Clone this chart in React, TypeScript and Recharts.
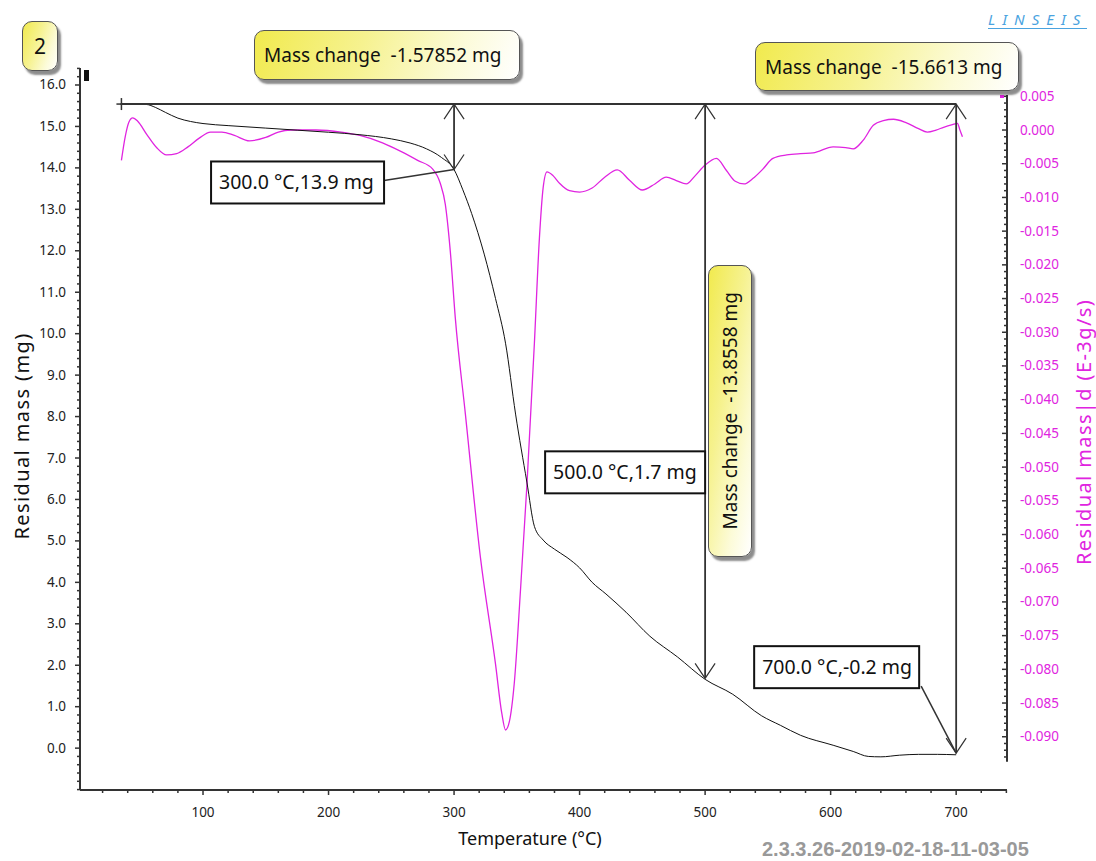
import React from "react";
import { LineChart, Line, XAxis, YAxis, ReferenceLine, ReferenceDot } from "recharts";

const FONT = '"Noto Sans", sans-serif';
const PINK = "#e024e0";
const INK = "#333";

// TG: residual mass (mg) against temperature (°C)
const tgTemp = [34, 45, 55, 62, 70, 80, 90, 100, 120, 150, 175, 200, 225, 250, 265, 278, 290, 300, 307, 314, 324, 333, 341, 349, 358, 364, 371, 380, 390, 400, 410, 421, 437, 456, 478, 500, 522, 545, 560, 576, 602, 618, 630, 640, 655, 670, 685, 700];
const tgMass = [15.54, 15.54, 15.53, 15.46, 15.34, 15.2, 15.12, 15.07, 15.02, 14.96, 14.91, 14.86, 14.8, 14.7, 14.6, 14.46, 14.25, 13.96, 13.47, 12.9, 11.92, 10.85, 9.77, 8.06, 6.42, 5.35, 5.02, 4.8, 4.6, 4.35, 4.0, 3.72, 3.28, 2.7, 2.2, 1.66, 1.3, 0.78, 0.55, 0.31, 0.07, -0.08, -0.2, -0.21, -0.17, -0.15, -0.15, -0.16];

// DTG: residual mass|d (E-3g/s)
const dtgTemp = [35, 38, 41, 44, 48, 55, 63, 71, 79, 88, 97, 106, 115, 125, 137, 150, 160, 170, 190, 210, 225, 243, 258, 271, 283, 289, 293, 297, 301, 309, 321, 333, 338, 341, 344, 348, 353, 358, 364, 368, 371, 374, 379, 384, 392, 400, 410, 420, 430, 440, 450, 460, 469, 477, 485, 492, 500, 509, 517, 524, 531, 538, 546, 554, 565, 576, 586, 602, 612, 618, 626, 634, 642, 650, 660, 670, 677, 684, 690, 697, 701, 703, 705];
const dtgRate = [-0.0045, -0.001, 0.0012, 0.0018, 0.0013, -0.0006, -0.0026, -0.0037, -0.0035, -0.0025, -0.0012, -0.0003, -0.0003, -0.0008, -0.0016, -0.0011, -0.0003, 0, 0, -0.0003, -0.0008, -0.0019, -0.0032, -0.0045, -0.0058, -0.0079, -0.011, -0.018, -0.0279, -0.0421, -0.0634, -0.0792, -0.0865, -0.089, -0.0878, -0.082, -0.068, -0.0528, -0.0316, -0.016, -0.0085, -0.0062, -0.0068, -0.0079, -0.009, -0.0092, -0.0086, -0.007, -0.0059, -0.0075, -0.0089, -0.008, -0.007, -0.0075, -0.008, -0.0068, -0.0052, -0.0042, -0.006, -0.0076, -0.008, -0.0072, -0.0058, -0.0042, -0.0037, -0.0035, -0.0034, -0.0025, -0.0026, -0.0028, -0.0015, 0.0007, 0.0014, 0.0016, 0.0011, 0.0002, -0.0003, 0, 0.0004, 0.0008, 0.001, 0, -0.001];

// tick labels
const tempLabels = [100, 200, 300, 400, 500, 600, 700];
const massLabels = [0, 1, 2, 3, 4, 5, 6, 7, 8, 9, 10, 11, 12, 13, 14, 15, 16];
const rateLabels = [0.005, 0, -0.005, -0.01, -0.015, -0.02, -0.025, -0.03, -0.035, -0.04, -0.045, -0.05, -0.055, -0.06, -0.065, -0.07, -0.075, -0.08, -0.085, -0.09];

// minor tick positions
const tempTicks = Array.from({ length: 37 }, (_, i) => 20 + i * 20);
const massTicks = Array.from({ length: 88 }, (_, i) => Math.round((-1 + i * 0.2) * 10) / 10);
const rateTicks = Array.from({ length: 99 }, (_, i) => Math.round((0.005 - i * 0.001) * 1000) / 1000);

// mass change evaluation
const startTemp = 35;
const startMass = 15.54;
const markTemps = [300, 500, 700];
const massChanges = [-1.57852, -13.8558, -15.6613];
const pointLabels = ["300.0 °C,13.9 mg", "500.0 °C,1.7 mg", "700.0 °C,-0.2 mg"];

const tgData = tgTemp.map((t, i) => ({ t, mass: tgMass[i] }));
const dtgData = dtgTemp.map((t, i) => ({ t, rate: dtgRate[i] }));

const TempTick = ({ x, y, payload }: any) => {
  const v = payload.value;
  const major = tempLabels.includes(v);
  return (
    <g>
      <line x1={x} x2={x} y1={y} y2={y + (major ? 5 : 3)} stroke={INK} strokeWidth={1.5} />
      {major && (
        <text x={x} y={y + 27} textAnchor="middle" fontSize={13.5} fill="#222" fontFamily={FONT}>
          {v}
        </text>
      )}
    </g>
  );
};

const MassTick = ({ x, y, payload }: any) => {
  const v = payload.value;
  const major = massLabels.includes(v);
  return (
    <g>
      <line x1={x} x2={x - (major ? 5 : 3)} y1={y} y2={y} stroke={INK} strokeWidth={1.5} />
      {major && (
        <text x={x - 14} y={y + 4.5} textAnchor="end" fontSize={13.5} fill="#222" fontFamily={FONT}>
          {v.toFixed(1)}
        </text>
      )}
    </g>
  );
};

const RateTick = ({ x, y, payload }: any) => {
  const v = payload.value;
  const major = rateLabels.some((r) => Math.abs(r - v) < 1e-9);
  return (
    <g>
      <line x1={x} x2={x - (major ? 5 : 3)} y1={y} y2={y} stroke={INK} strokeWidth={1.5} />
      {major && (
        <text x={x + 13} y={y + 4.5} textAnchor="start" fontSize={13.5} fill={PINK} fontFamily={FONT}>
          {v.toFixed(3)}
        </text>
      )}
    </g>
  );
};

const ArrowShape = (p: any) => {
  const top = Math.min(p.y1, p.y2);
  const bottom = Math.max(p.y1, p.y2);
  const x = p.x1;
  return (
    <g stroke={INK} fill="none">
      <line x1={x} x2={x} y1={top} y2={bottom} strokeWidth={1.8} />
      <polyline points={`${x - 10},${top + 15} ${x},${top} ${x + 10},${top + 15}`} strokeWidth={1.2} />
      <polyline points={`${x - 10},${bottom - 15} ${x},${bottom} ${x + 10},${bottom - 15}`} strokeWidth={1.2} />
    </g>
  );
};

const Cross = (p: any) => (
  <g stroke={INK} strokeWidth={1.5}>
    <line x1={p.cx - 5} x2={p.cx + 5} y1={p.cy} y2={p.cy} />
    <line x1={p.cx} x2={p.cx} y1={p.cy - 6} y2={p.cy + 6} />
  </g>
);

const boxPlace = [
  { dx: -243, dy: -8, w: 173, lead: [-70, 11] },
  { dx: -160, dy: -227, w: 160, lead: null },
  { dx: -202, dy: -107, w: 165, lead: [-35, -67] },
];

const makeBox = (i: number) => (p: any) => {
  const b = boxPlace[i];
  const bx = p.cx + b.dx;
  const by = p.cy + b.dy;
  return (
    <g>
      {b.lead && (
        <line x1={p.cx + b.lead[0]} y1={p.cy + b.lead[1]} x2={p.cx} y2={p.cy} stroke={INK} strokeWidth={1.5} />
      )}
      <rect x={bx} y={by} width={b.w} height={42} fill="#fff" stroke="#111" strokeWidth={2} />
      <text x={bx + 8} y={by + 28} fontSize={19.5} fill="#111" fontFamily={FONT}>
        {pointLabels[i]}
      </text>
    </g>
  );
};

const calloutStyle: React.CSSProperties = {
  position: "absolute",
  boxSizing: "border-box",
  border: "1px solid #555",
  borderRadius: 10,
  background: "linear-gradient(110deg, #f1ea4e 0%, #f6f290 40%, #fcfbd8 75%, #ffffff 100%)",
  boxShadow: "3px 4px 2px rgba(0,0,0,0.45)",
  fontFamily: FONT,
  fontSize: 19,
  color: "#111",
  whiteSpace: "pre",
  display: "flex",
  alignItems: "center",
};

const vTitle: React.CSSProperties = {
  position: "absolute",
  transform: "translate(-50%, -50%) rotate(180deg)",
  writingMode: "vertical-rl",
  whiteSpace: "nowrap",
  fontFamily: FONT,
  fontSize: 20,
  letterSpacing: 1.4,
  lineHeight: "24px",
};

export default function App() {
  return (
    <div style={{ position: "relative", width: 1096, height: 861, overflow: "hidden", background: "#fff" }}>
      <style>{`body{margin:0}`}</style>
      <LineChart width={1096} height={861} margin={{ top: 68, right: 0, bottom: 0, left: 0 }}>
        <XAxis
          type="number"
          dataKey="t"
          domain={[2, 740.5]}
          allowDataOverflow
          ticks={tempTicks}
          interval={0}
          tick={<TempTick />}
          tickSize={0}
          tickMargin={0}
          tickLine={false}
          height={71}
          axisLine={{ stroke: INK, strokeWidth: 2 }}
        />
        <YAxis
          yAxisId="left"
          type="number"
          domain={[-1.01, 16.41]}
          allowDataOverflow
          ticks={massTicks}
          interval={0}
          tick={<MassTick />}
          tickSize={0}
          tickMargin={0}
          tickLine={false}
          width={80}
          axisLine={{ stroke: INK, strokeWidth: 2 }}
        />
        <YAxis
          yAxisId="right"
          orientation="right"
          type="number"
          domain={[-0.0979, 0.0092]}
          allowDataOverflow
          ticks={rateTicks}
          interval={0}
          tick={<RateTick />}
          tickSize={0}
          tickMargin={0}
          tickLine={false}
          width={89}
          axisLine={false}
        />
        <ReferenceLine
          yAxisId="right"
          segment={[{ x: 740.5, y: 0.0052 }, { x: 740.5, y: -0.0937 }]}
          stroke={INK}
          strokeWidth={2}
          ifOverflow="visible"
        />
        <Line
          yAxisId="right"
          data={dtgData}
          dataKey="rate"
          type="monotone"
          stroke={PINK}
          strokeWidth={1.3}
          dot={false}
          activeDot={false}
          isAnimationActive={false}
        />
        <Line
          yAxisId="left"
          data={tgData}
          dataKey="mass"
          type="monotone"
          stroke="#111"
          strokeWidth={1}
          dot={false}
          activeDot={false}
          isAnimationActive={false}
        />
        <ReferenceLine
          yAxisId="left"
          segment={[{ x: startTemp, y: startMass }, { x: markTemps[2], y: startMass }]}
          stroke={INK}
          strokeWidth={2}
          ifOverflow="visible"
        />
        <ReferenceDot yAxisId="left" x={startTemp} y={startMass} r={0} ifOverflow="visible" shape={Cross} />
        {markTemps.map((t, i) => (
          <ReferenceLine
            key={`arrow-${t}`}
            yAxisId="left"
            segment={[{ x: t, y: startMass }, { x: t, y: startMass + massChanges[i] }]}
            ifOverflow="visible"
            shape={ArrowShape}
          />
        ))}
        {markTemps.map((t, i) => (
          <ReferenceDot
            key={`box-${t}`}
            yAxisId="left"
            x={t}
            y={startMass + massChanges[i]}
            r={0}
            ifOverflow="visible"
            shape={makeBox(i)}
          />
        ))}
      </LineChart>

      {/* markers on axis tops */}
      <div style={{ position: "absolute", left: 84, top: 70, width: 5, height: 11, background: "#111" }} />
      <div style={{ position: "absolute", left: 1000, top: 95, width: 4, height: 3, background: PINK }} />

      {/* curve badge */}
      <div style={{ ...calloutStyle, left: 22, top: 21, width: 36, height: 50, justifyContent: "center", fontSize: 21 }}>2</div>

      {/* mass change callouts */}
      <div style={{ ...calloutStyle, left: 254, top: 30, width: 266, height: 50, paddingLeft: 9 }}>
        {`Mass change  ${massChanges[0]} mg`}
      </div>
      <div style={{ ...calloutStyle, left: 755, top: 42, width: 264, height: 49, paddingLeft: 9 }}>
        {`Mass change  ${massChanges[2]} mg`}
      </div>
      <div
        style={{
          ...calloutStyle,
          left: 708,
          top: 265,
          width: 44,
          height: 292,
          justifyContent: "center",
          background: "linear-gradient(100deg, #f1ea4e 0%, #f6f290 40%, #fcfbd8 75%, #ffffff 100%)",
        }}
      >
        <div style={{ writingMode: "vertical-rl", transform: "rotate(180deg)" }}>{`Mass change  ${massChanges[1]} mg`}</div>
      </div>

      {/* axis titles */}
      <div style={{ ...vTitle, left: 22, top: 436, color: "#111" }}>Residual mass (mg)</div>
      <div style={{ ...vTitle, left: 1084, top: 432, color: PINK }}>Residual mass|d (E-3g/s)</div>
      <div
        style={{
          position: "absolute",
          left: 530,
          top: 838,
          transform: "translate(-50%, -50%)",
          whiteSpace: "nowrap",
          fontFamily: FONT,
          fontSize: 18,
          color: "#111",
        }}
      >
        Temperature (°C)
      </div>

      {/* logo and version stamp */}
      <div
        style={{
          position: "absolute",
          left: 988,
          top: 10,
          fontFamily: FONT,
          fontStyle: "italic",
          fontSize: 15,
          letterSpacing: 7,
          color: "#4aa3df",
          borderBottom: "1.5px solid #4aa3df",
          lineHeight: "18px",
        }}
      >
        LINSEIS
      </div>
      <div
        style={{
          position: "absolute",
          left: 762,
          top: 838,
          fontFamily: '"Liberation Sans", Arial, sans-serif',
          fontWeight: "bold",
          fontSize: 20,
          color: "#999",
          whiteSpace: "nowrap",
        }}
      >
        2.3.3.26-2019-02-18-11-03-05
      </div>
    </div>
  );
}
